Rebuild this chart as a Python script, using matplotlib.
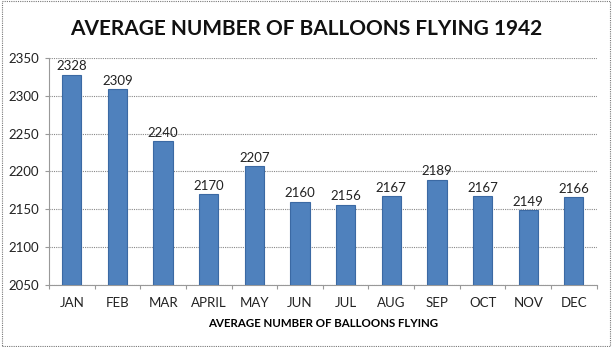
import matplotlib
matplotlib.use("Agg")
import matplotlib.pyplot as plt
from matplotlib.patches import Rectangle

months = ["JAN", "FEB", "MAR", "APRIL", "MAY", "JUN", "JUL", "AUG", "SEP", "OCT", "NOV", "DEC"]
balloons = [2328, 2309, 2240, 2170, 2207, 2160, 2156, 2167, 2189, 2167, 2149, 2166]
y_ticks = [2050, 2100, 2150, 2200, 2250, 2300, 2350]

plt.rcParams["font.family"] = ["Lato", "DejaVu Sans"]

fig = plt.figure(figsize=(6.12, 3.47), dpi=100)
ax = fig.add_axes([0.080, 0.179, 0.895, 0.654])

x = list(range(len(months)))
ax.bar(x, [v - y_ticks[0] for v in balloons], bottom=y_ticks[0], width=0.42,
       color="#4F81BD", edgecolor="#3B69A3", linewidth=0.8, zorder=3)
for xi, v in zip(x, balloons):
    ax.text(xi, v + 3, str(v), ha="center", va="bottom", fontsize=9.5, color="#222222")

ax.set_xlim(-0.5, len(months) - 0.5)
ax.set_ylim(y_ticks[0], y_ticks[-1])
ax.set_yticks(y_ticks)
ax.set_xticks(x)
ax.set_xticklabels(months)
ax.set_xticks([i - 0.5 for i in range(len(months) + 1)], minor=True)
ax.tick_params(axis="both", labelsize=9.5, colors="#222222")
ax.tick_params(axis="x", which="major", length=0, pad=9)
ax.tick_params(axis="x", which="minor", length=3, width=0.8, color="#999999")
ax.tick_params(axis="y", which="major", length=3, width=0.8, color="#999999", pad=4)
ax.yaxis.grid(True, linestyle=(0, (1, 1)), color="#888888", linewidth=0.8, zorder=0)
for s in ["top", "right"]:
    ax.spines[s].set_visible(False)
for s in ["left", "bottom"]:
    ax.spines[s].set_color("#999999")
    ax.spines[s].set_linewidth(0.8)
ax.set_xlabel("AVERAGE NUMBER OF BALLOONS FLYING", fontsize=8.3, fontweight="bold", labelpad=6)

fig.suptitle("AVERAGE NUMBER OF BALLOONS FLYING 1942", x=0.5, y=0.945,
             fontsize=15, fontweight="bold", color="#111111")

fig.patches.append(Rectangle((0.004, 0.004), 0.992, 0.992, transform=fig.transFigure,
                             fill=False, edgecolor="#777777", linewidth=0.8,
                             linestyle=(0, (1, 1))))

fig.savefig("out.png", dpi=100)
